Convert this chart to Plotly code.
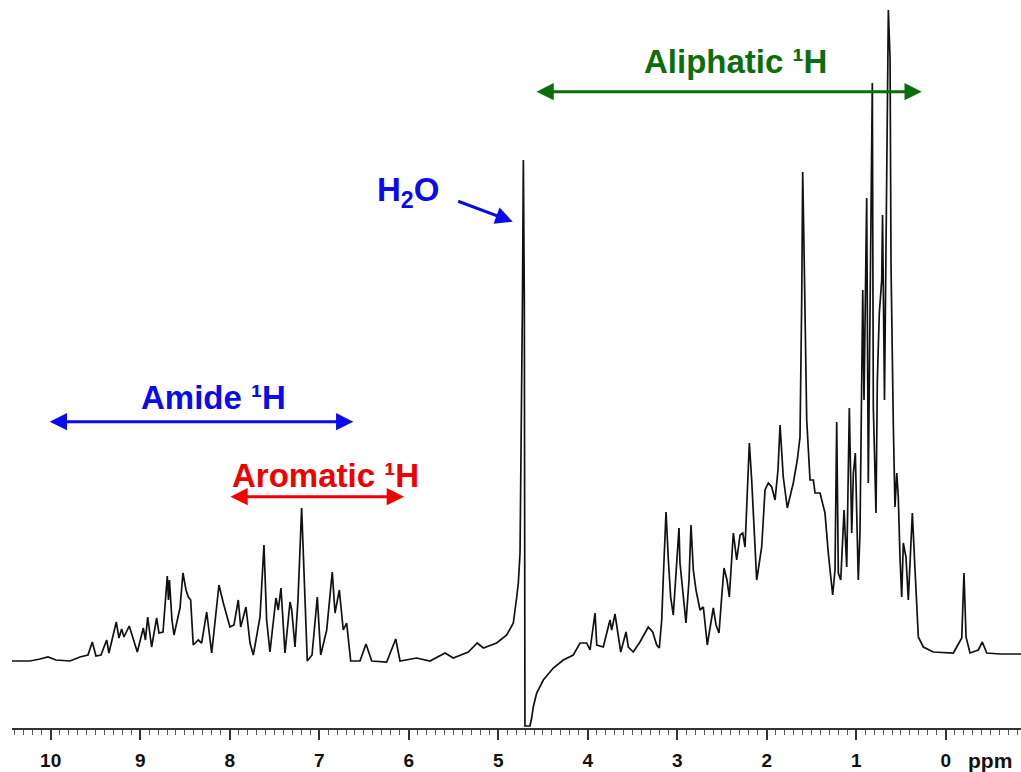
import plotly.graph_objects as go

# 1H NMR spectrum of a protein sample: chemical shift (ppm) and intensity (arbitrary units)
shift_ppm = [
    10.432, 10.231, 10.120, 10.030, 9.941, 9.784, 9.673, 9.583, 9.535, 9.494,
    9.438, 9.374, 9.349, 9.267, 9.237, 9.207, 9.181, 9.122, 9.032, 8.965,
    8.941, 8.916, 8.872, 8.816, 8.790, 8.745, 8.697, 8.684, 8.673, 8.645,
    8.622, 8.555, 8.522, 8.488, 8.462, 8.436, 8.407, 8.351, 8.313, 8.257,
    8.201, 8.120, 8.071, 7.997, 7.952, 7.904, 7.877, 7.818, 7.773, 7.736,
    7.661, 7.617, 7.587, 7.550, 7.483, 7.457, 7.427, 7.382, 7.326, 7.307,
    7.270, 7.237, 7.196, 7.170, 7.133, 7.080, 7.021, 6.983, 6.916, 6.854,
    6.823, 6.775, 6.731, 6.693, 6.648, 6.544, 6.477, 6.413, 6.246, 6.145,
    6.097, 5.911, 5.762, 5.594, 5.502, 5.334, 5.234, 5.166, 5.017, 4.905,
    4.831, 4.793, 4.775, 4.756, 4.737, 4.729, 4.719, 4.708, 4.701, 4.645,
    4.626, 4.608, 4.570, 4.496, 4.384, 4.273, 4.161, 4.086, 4.011, 3.974,
    3.918, 3.899, 3.826, 3.751, 3.732, 3.695, 3.631, 3.572, 3.546, 3.491,
    3.416, 3.323, 3.274, 3.229, 3.200, 3.173, 3.155, 3.125, 3.099, 3.073,
    3.044, 3.013, 2.980, 2.969, 2.902, 2.868, 2.846, 2.820, 2.790, 2.745,
    2.708, 2.664, 2.597, 2.566, 2.533, 2.503, 2.477, 2.444, 2.418, 2.373,
    2.335, 2.298, 2.268, 2.242, 2.223, 2.194, 2.168, 2.112, 2.056, 2.019,
    1.982, 1.944, 1.907, 1.874, 1.851, 1.815, 1.770, 1.703, 1.658, 1.628,
    1.609, 1.598, 1.583, 1.553, 1.516, 1.479, 1.460, 1.404, 1.349, 1.312,
    1.263, 1.237, 1.218, 1.200, 1.173, 1.136, 1.106, 1.077, 1.050, 1.032,
    1.010, 0.977, 0.958, 0.927, 0.913, 0.883, 0.865, 0.846, 0.820, 0.809,
    0.779, 0.764, 0.742, 0.715, 0.706, 0.684, 0.641, 0.622, 0.611, 0.585,
    0.567, 0.547, 0.530, 0.511, 0.492, 0.474, 0.444, 0.418, 0.399, 0.373,
    0.343, 0.324, 0.306, 0.250, 0.139, -0.085, -0.179, -0.204, -0.227, -0.271,
    -0.364, -0.409, -0.458, -0.607, -0.841,
]
intensity = [
    0, 0, 2, 4, 1, 0, 4, 6, 19, 5,
    6, 21, 8, 39, 23, 32, 24, 35, 9, 33,
    21, 44, 14, 43, 28, 29, 85, 61, 81, 41,
    26, 53, 88, 71, 64, 61, 16, 21, 18, 49,
    8, 76, 58, 34, 36, 61, 34, 54, 18, 6,
    44, 116, 41, 9, 63, 51, 73, 8, 59, 51,
    14, 61, 153, 81, 0, 6, 64, 6, 31, 89,
    48, 71, 31, 38, 0, 0, 17, 0, -1, 22,
    0, 3, 0, 8, 3, 9, 18, 13, 18, 26,
    38, 64, 78, 108, 261, 361, 501, 361, -65, -65,
    -57, -46, -32, -19, -7, 1, 6, 18, 18, 11,
    48, 16, 14, 41, 31, 47, 9, 29, 14, 9,
    19, 34, 29, 16, 13, 41, 84, 149, 101, 64,
    46, 91, 133, 98, 38, 81, 136, 91, 71, 51,
    54, 16, 53, 36, 28, 64, 93, 81, 64, 128,
    101, 126, 128, 114, 154, 218, 181, 81, 114, 171,
    178, 174, 161, 191, 236, 184, 153, 178, 201, 224,
    361, 489, 411, 241, 181, 181, 168, 168, 148, 108,
    66, 91, 239, 88, 81, 151, 94, 253, 128, 188,
    208, 81, 128, 371, 261, 463, 178, 361, 578, 254,
    148, 281, 348, 381, 446, 261, 651, 603, 394, 234,
    154, 188, 164, 104, 64, 118, 104, 61, 94, 148,
    91, 51, 24, 14, 9, 8, 23, 88, 24, 8,
    11, 19, 8, 7, 7,
]

tick_values = [10, 9, 8, 7, 6, 5, 4, 3, 2, 1, 0]
tick_labels = ["10", "9", "8", "7", "6", "5", "4", "3", "2", "1", "0"]

FONT = "Arial, 'Liberation Sans', Helvetica, sans-serif"
BLUE = "#0a0aec"
RED = "#f00000"
GREEN = "#0b6e0b"

fig = go.Figure()
fig.add_trace(go.Scatter(
    x=shift_ppm, y=intensity, mode="lines",
    line=dict(color="#111111", width=1.7),
    hoverinfo="skip", showlegend=False,
))


def span_arrow(x0, x1, y, color):
    # double-headed arrow spanning a chemical-shift region
    fig.add_annotation(
        x=x1, y=y, ax=x0, ay=y, xref="x", yref="y", axref="x", ayref="y",
        text="", showarrow=True, arrowhead=2, startarrowhead=2,
        arrowside="end+start", arrowsize=1.15, startarrowsize=1.15,
        arrowwidth=3, arrowcolor=color,
    )


def label(x, y, text, color):
    fig.add_annotation(
        x=x, y=y, xref="x", yref="y", text=f"<b>{text}</b>", showarrow=False,
        font=dict(family=FONT, size=33, color=color),
        xanchor="center", yanchor="middle",
    )


span_arrow(10.027, 6.619, 239.3, BLUE)
label(8.184, 263.5, "Amide ¹H", BLUE)

span_arrow(8.008, 6.053, 164.3, RED)
label(6.935, 186, "Aromatic ¹H", RED)

span_arrow(4.589, 0.268, 569.3, GREEN)
label(2.354, 599.5, "Aliphatic ¹H", GREEN)

label(6.008, 469, "H<sub>2</sub>O", BLUE)
fig.add_annotation(
    x=4.838, y=439.3, ax=5.464, ay=460.3, xref="x", yref="y", axref="x", ayref="y",
    text="", showarrow=True, arrowhead=2, arrowsize=1.15, arrowwidth=3,
    arrowcolor=BLUE,
)

# axis unit, placed in the tick-label row
fig.add_annotation(
    x=-0.5, y=-0.045, xref="x", yref="paper", text="<b>ppm</b>", showarrow=False,
    font=dict(family=FONT, size=21, color="#111111"),
    xanchor="center", yanchor="middle",
)

fig.update_layout(
    width=1021, height=772,
    margin=dict(l=12, r=0, t=0, b=44),
    paper_bgcolor="white", plot_bgcolor="white",
    xaxis=dict(
        range=[10.432, -0.841], showgrid=False, zeroline=False,
        showline=True, linecolor="#333333", linewidth=2,
        tickmode="array", tickvals=tick_values, ticktext=tick_labels,
        ticks="outside", ticklen=10, tickwidth=1.5, tickcolor="#333333",
        tickfont=dict(family=FONT, size=19, color="#111111", weight="bold"),
        ticklabelstandoff=4,
        minor=dict(dtick=0.1, tick0=0, ticks="outside", ticklen=5,
                   tickwidth=1, tickcolor="#555555", showgrid=False),
    ),
    yaxis=dict(range=[-67, 661], visible=False),
)

fig.write_html("out.html")
